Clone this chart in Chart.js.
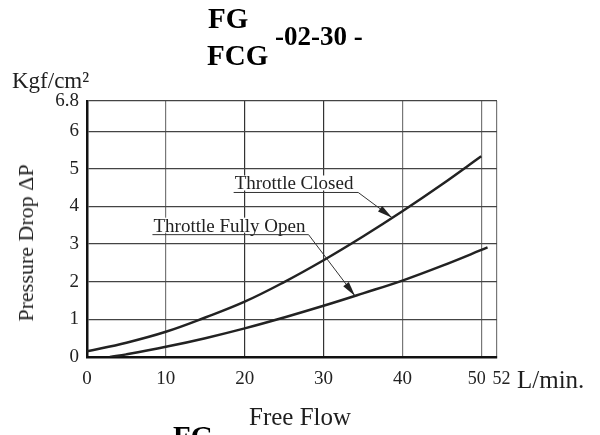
<!DOCTYPE html>
<html>
<head>
<meta charset="utf-8">
<script src="https://cdn.jsdelivr.net/npm/chart.js@4/dist/chart.umd.min.js"></script>
<style>
  body { margin: 0; background: #fff; }
  #wrap { position: relative; width: 600px; height: 435px; overflow: hidden; font-family: "Liberation Serif", serif; color: #1e1e1e; }
  #wrap canvas { position: absolute; left: 0; top: 0; }
  .txt { position: absolute; line-height: 1; white-space: nowrap; }
  .bold { font-weight: bold; color: #000; }
</style>
</head>
<body>
<div id="wrap">
  <canvas id="chart" width="600" height="435"></canvas>
  <div class="txt bold" style="left:208px; top:4px; font-size:29px;">FG</div>
  <div class="txt bold" style="left:207px; top:41px; font-size:29px;">FCG</div>
  <div class="txt bold" style="left:275px; top:23px; font-size:27px;">-02-30 -</div>
  <div class="txt" style="left:12px; top:69px; font-size:23px;">Kgf/cm²</div>
  <div class="txt" style="left:26px; top:243px; font-size:22px; transform: translate(-50%,-50%) rotate(-90deg);">Pressure Drop ΔP</div>
  <div class="txt" style="left:517px; top:367px; font-size:25px;">L/min.</div>
  <div class="txt" style="left:249px; top:404px; font-size:25px;">Free Flow</div>
  <div class="txt bold" style="left:173px; top:422px; font-size:29px;">FG</div>
</div>
<script>
/*************** data ***************/
const flowClosed = [0, 5, 10, 15, 20, 25, 30, 35, 40, 45, 50];   // L/min
const dropClosed = [0.15, 0.38, 0.67, 1.05, 1.47, 1.99, 2.57, 3.2, 3.87, 4.58, 5.33];

const flowOpen = [2.9, 5, 10, 15, 20, 25, 30, 35, 40, 45, 50.8];
const dropOpen = [0, 0.07, 0.27, 0.5, 0.76, 1.05, 1.36, 1.69, 2.03, 2.42, 2.91];

const xTicks = [0, 10, 20, 30, 40, 50, 52];
const xTickLabels = ['0', '10', '20', '30', '40', '50\u2002', '\u200252'];
const yTicks = [0, 1, 2, 3, 4, 5, 6, 6.8];

// callouts: label start x, underline y, underline end x, arrow tip (x, y)
const labelClosed = { text: 'Throttle Closed', x: 18.6, y: 4.37, endX: 34.4, tipX: 38.7, tipY: 3.7 };
const labelOpen = { text: 'Throttle Fully Open', x: 8.3, y: 3.25, endX: 28.1, tipX: 34.0, tipY: 1.62 };

/*************** helpers ***************/
function toPoints(xs, ys) {
    return xs.map((x, i) => ({ x: x, y: ys[i] }));
}

// draws the two leader-line labels with arrow heads
const calloutPlugin = {
    id: 'callouts',
    afterDatasetsDraw(chart) {
        const ctx = chart.ctx;
        const xs = chart.scales.x;
        const ys = chart.scales.y;
        [labelClosed, labelOpen].forEach(c => {
            const x0 = xs.getPixelForValue(c.x);
            const y0 = ys.getPixelForValue(c.y);
            const x1 = xs.getPixelForValue(c.endX);
            const tx = xs.getPixelForValue(c.tipX);
            const ty = ys.getPixelForValue(c.tipY);
            ctx.save();
            // white box behind text so the grid doesn't cross it
            ctx.font = '19px "Liberation Serif"';
            const w = ctx.measureText(c.text).width;
            ctx.fillStyle = '#fff';
            ctx.fillRect(x0 + 1, y0 - 17, w, 15);
            ctx.fillStyle = '#222';
            ctx.textBaseline = 'alphabetic';
            ctx.fillText(c.text, x0 + 1, y0 - 3);
            // underline + leader
            ctx.strokeStyle = '#333';
            ctx.lineWidth = 1;
            ctx.beginPath();
            ctx.moveTo(x0, y0);
            ctx.lineTo(x1, y0);
            ctx.lineTo(tx, ty);
            ctx.stroke();
            // arrow head
            const ang = Math.atan2(ty - y0, tx - x1);
            const len = 15, half = 3.5;
            ctx.fillStyle = '#222';
            ctx.beginPath();
            ctx.moveTo(tx, ty);
            ctx.lineTo(tx - len * Math.cos(ang) + half * Math.sin(ang), ty - len * Math.sin(ang) - half * Math.cos(ang));
            ctx.lineTo(tx - len * Math.cos(ang) - half * Math.sin(ang), ty - len * Math.sin(ang) + half * Math.cos(ang));
            ctx.closePath();
            ctx.fill();
            ctx.restore();
        });
    }
};

/*************** chart ***************/
const tickFont = { family: 'Liberation Serif', size: 19 };

new Chart(document.getElementById('chart'), {
    type: 'line',
    data: {
        datasets: [
            {
                label: 'Throttle Closed',
                data: toPoints(flowClosed, dropClosed),
                borderColor: '#222',
                borderWidth: 2.5,
                pointRadius: 0,
                tension: 0.4
            },
            {
                label: 'Throttle Fully Open',
                data: toPoints(flowOpen, dropOpen),
                borderColor: '#222',
                borderWidth: 2.5,
                pointRadius: 0,
                tension: 0.4
            }
        ]
    },
    options: {
        responsive: false,
        animation: false,
        layout: { padding: { left: 0, top: 101, right: 103, bottom: 0 } },
        plugins: {
            legend: { display: false },
            tooltip: { enabled: false }
        },
        scales: {
            x: {
                type: 'linear',
                min: 0,
                max: 52,
                afterBuildTicks: s => { s.ticks = xTicks.map(v => ({ value: v })); },
                afterFit: s => { s.height = 78; },
                ticks: {
                    autoSkip: false,
                    maxRotation: 0,
                    padding: 11,
                    color: '#222',
                    font: c => (c.tick && c.tick.value >= 50) ? { family: 'Liberation Serif', size: 18 } : tickFont,
                    callback: v => xTickLabels[xTicks.indexOf(v)]
                },
                grid: {
                    color: c => (c.tick && (c.tick.value === 10 || c.tick.value >= 40)) ? '#777' : '#333',
                    lineWidth: 1.2,
                    drawTicks: false
                },
                border: { display: true, color: '#111', width: 2.5 }
            },
            y: {
                type: 'linear',
                min: 0,
                max: 6.8,
                afterBuildTicks: s => { s.ticks = yTicks.map(v => ({ value: v })); },
                afterFit: s => { s.width = 87; },
                ticks: {
                    autoSkip: false,
                    padding: 8,
                    color: '#222',
                    font: tickFont
                },
                grid: {
                    color: '#444',
                    lineWidth: 1.2,
                    drawTicks: false
                },
                border: { display: true, color: '#111', width: 2.5 }
            }
        }
    },
    plugins: [calloutPlugin]
});
</script>
</body>
</html>
